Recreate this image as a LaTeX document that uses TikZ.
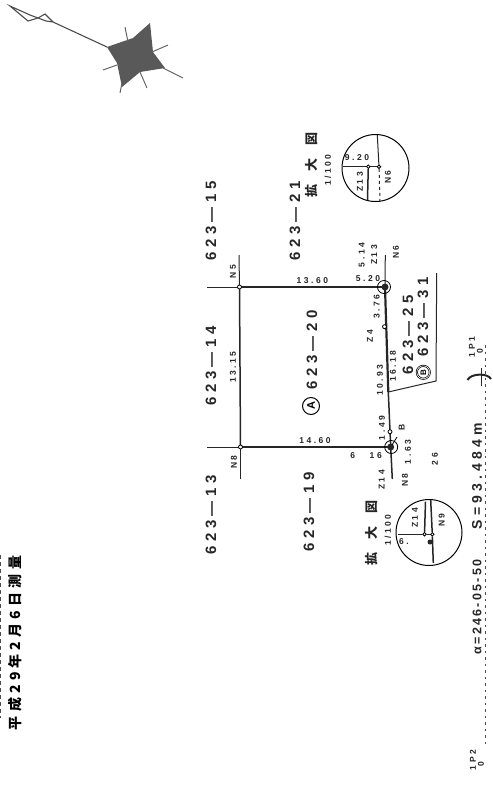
\documentclass[tikz,border=0pt]{standalone}
\usepackage{fontspec}
\setmainfont{Liberation Sans}
\newfontfamily\spacedfont[LetterSpace=30]{Liberation Sans}
\newfontfamily\tightfont[LetterSpace=18]{Liberation Sans}
\newfontfamily\cjkfont[LetterSpace=30]{Noto Sans CJK JP}
\newfontfamily\cjkwide[LetterSpace=100]{Noto Sans CJK JP}
\usetikzlibrary{shapes.geometric}

\begin{document}
\begin{tikzpicture}[
    x=1pt, y=-1pt,
    every node/.style={inner sep=0pt},
    parcel/.style={font=\spacedfont\bfseries\fontsize{15}{15}\selectfont, rotate=90, text=black!85},
    survey/.style={font=\spacedfont\bfseries\fontsize{14}{14}\selectfont, rotate=90, text=black!85},
    surveyb/.style={font=\tightfont\bfseries\fontsize{12.5}{12.5}\selectfont, rotate=90, text=black!85},
    dim/.style={font=\spacedfont\bfseries\fontsize{8.5}{8.5}\selectfont, text=black!85},
    dimup/.style={dim, rotate=90},
    heading/.style={font=\cjkfont\bfseries\fontsize{14}{14}\selectfont, rotate=90},
    enlarged/.style={font=\cjkwide\bfseries\fontsize{13}{13}\selectfont, rotate=90, text=black!85},
    boundary/.style={draw=black!85, line width=1.5pt},
    heavy/.style={draw=black!85, line width=2.2pt},
    thin line/.style={draw=black!85, line width=1pt},
    pin/.style={draw=black, fill=white, line width=0.8pt, circle, minimum size=4pt},
    ]
    \useasboundingbox (0,0) rectangle (493,788);

    % lot corners
    \coordinate (nwc) at (239.5,287);
    \coordinate (swc) at (240.5,447);
    \coordinate (nec) at (385,287);
    \coordinate (sec) at (390.7,447);
    \coordinate (bend) at (388.3,392);

    % lot outline
    \draw[boundary] (swc) -- (sec);
    \draw[boundary] (nwc) -- (nec);
    \draw[boundary] (nwc) -- (swc);
    \draw[heavy] (nec) -- (bend);
    \draw[boundary] (bend) -- (sec);
    \draw[thin line] (207,287) -- (nwc);
    \draw[thin line] (207,447) -- (swc);
    \draw[thin line] (239,255) -- (nwc);
    \draw[thin line] (swc) -- (240.5,479);
    \draw[thin line] (385.3,255) -- (nec);
    \draw[boundary] (sec) -- (392.3,479);

    % neighbour strip
    \draw[thin line] (436.7,273) -- (436,381) -- (bend);

    % corner marks
    \draw[line width=0.8pt] (nec) ++(-1,0) circle (6.5pt);
    \draw[line width=0.8pt] (sec) ++(0.5,0) circle (6.5pt);
    \fill[black!85] (nec) circle (3.5pt);
    \fill[black!85] (sec) circle (3.5pt);
    \node[pin] (pnw) at (nwc) {};
    \node[pin] (psw) at (swc) {};
    \node[pin] (pn) at (384.5,326.7) {};
    \node[pin] (ps) at (390,431.7) {};
    \draw[line width=0.8pt] (397,437) -- (392,445);

    % parcel numbers
    \node[parcel] (p15) at (211,221) {623—15};
    \node[parcel] (p21) at (295,221) {623—21};
    \node[parcel] (p14) at (211,366) {623—14};
    \node[parcel] (p13) at (211,515) {623—13};
    \node[parcel] (p19) at (309,512) {623—19};
    \node[parcel] (p20) at (312,350) {623—20};
    \node[parcel] (p25) at (408,335) {623—25};
    \node[parcel] (p31) at (423,317) {623—31};
    \node[draw, circle, line width=1pt, minimum size=17pt, rotate=90, font=\bfseries\fontsize{11}{11}\selectfont] (ma) at (311,406) {A};
    \node[draw, double, circle, line width=0.7pt, minimum size=13pt, rotate=90, font=\bfseries\fontsize{8}{8}\selectfont] (mb) at (423.3,372.3) {B};

    % lengths and point names
    \node[dim] (d1360) at (312.3,280.7) {13.60};
    \node[dim] (d1460) at (315,440.7) {14.60};
    \node[dimup] (d1315) at (233,367) {13.15};
    \node[dim] (d520) at (368,279) {5.20};
    \node[dimup] (d514) at (361.7,255) {5.14};
    \node[dimup] (z13) at (374.3,255) {Z13};
    \node[dimup] (n6) at (396,252) {N6};
    \node[dimup] (n5) at (233,271.7) {N5};
    \node[dimup] (n8) at (234,462) {N8};
    \node[dimup] (d376) at (376.7,306.7) {3.76};
    \node[dimup] (z4) at (370,336) {Z4};
    \node[dimup] (d1618) at (393,366) {16.18};
    \node[dimup] (d1093) at (380,380) {10.93};
    \node[dimup] (d149) at (382,428) {1.49};
    \node[dimup] (mbk) at (401.7,427) {B};
    \node[dimup] (d163) at (408,452) {1.63};
    \node[dimup] (n8b) at (405,480) {N8};
    \node[dim] (d616) at (366,456) {6 \ \ 16};
    \node[dimup] (z14) at (381.7,480) {Z14};
    \node[dimup] (n26) at (435,459) {26};

    % upper enlargement
    \node[enlarged] (kakuu) at (312,165) {拡大図};
    \node[dimup] (ratiou) at (328,170) {1/100};
    \draw[line width=1pt] (375.5,168) circle (33.5pt);
    \coordinate (uleft) at (343,166.7);
    \node[pin, minimum size=3.5pt] (ua) at (368.3,166.7) {};
    \node[pin, minimum size=3.5pt] (ub) at (379,166.7) {};
    \draw[boundary] (uleft) -- (ua) -- (ub);
    \draw[thin line] (377.3,135) -- (ub);
    \draw[thin line, dashed] (ub) -- (380,201.7);
    \draw[boundary] (ua) -- (367.5,200);
    \node[dim] (u920) at (357,158) {9.20};
    \node[dimup] (uz13) at (360,182) {Z13};
    \node[dimup] (un6) at (388,177) {N6};

    % lower enlargement
    \node[enlarged] (kakul) at (372,533) {拡大図};
    \node[dimup] (ratiol) at (388,530) {1/100};
    \draw[line width=1pt] (429,532.5) circle (33pt);
    \coordinate (lleft) at (398,534.3);
    \node[pin, minimum size=3.5pt] (la) at (424.5,534.3) {};
    \node[pin, minimum size=3.5pt] (lb) at (432.3,534.3) {};
    \draw[boundary] (lleft) -- (la) -- (lb);
    \draw[boundary] (425.5,501.7) -- (la);
    \draw[boundary] (430.7,500) -- (lb);
    \draw[boundary] (lb) -- (433.3,563);
    \fill[black!85] (430,542) circle (2.5pt);
    \node[dimup] (lz14) at (415,518) {Z14};
    \node[dim] (l6) at (404,541.5) {6.};
    \node[dimup] (ln9) at (441.7,520) {N9};

    % survey line
    \draw[line width=0.9pt, dash pattern=on 2.5pt off 4pt, black!70] (485,345) -- (485,745);
    \node[surveyb] (angle) at (477,607) {α=246-05-50};
    \node[survey] (dist) at (477,476) {S=93.484m};
    \node[dimup] (ipa) at (472,347) {1P1};
    \node[dimup] (ipaz) at (480,351) {0};
    \node[dimup] (ipb) at (473,760) {1P2};
    \node[dimup] (ipbz) at (481,764) {0};
    \draw[line width=2pt, black!85] (467.5,380) .. controls (471,373) and (488,373) .. (491,379);
    \draw[line width=1pt, black!85] (481,368) -- (481,386);

    % date
    \node[heading] (date) at (15,643) {平成29年2月6日測量};
    \draw[line width=1pt, dash pattern=on 4pt off 3pt, black!70] (0.6,555) -- (0.6,718);

    % compass
    \fill[black!65] (107,47) -- (133,38) -- (150,23) -- (153,52) -- (165,68) -- (140,72) -- (122,87) -- (117,63) -- cycle;
    \draw[line width=1pt, black!60] (125,27) -- (128,42);
    \draw[line width=1pt, black!60] (168,45) -- (152,52);
    \draw[line width=1pt, black!60] (183,78) -- (163,68);
    \draw[line width=1pt, black!60] (147,88) -- (140,72);
    \draw[line width=1pt, black!60] (103,70) -- (117,65);
    \draw[line width=1pt, black!60] (120,93) -- (122,83);
    \draw[line width=1.1pt, black!70] (107,47) -- (53,22) -- (45,14) -- (38,18) -- (30,15) -- (10,6) -- (28,21) -- (38,18) -- (46,21) -- (53,22);
\end{tikzpicture}
\end{document}
